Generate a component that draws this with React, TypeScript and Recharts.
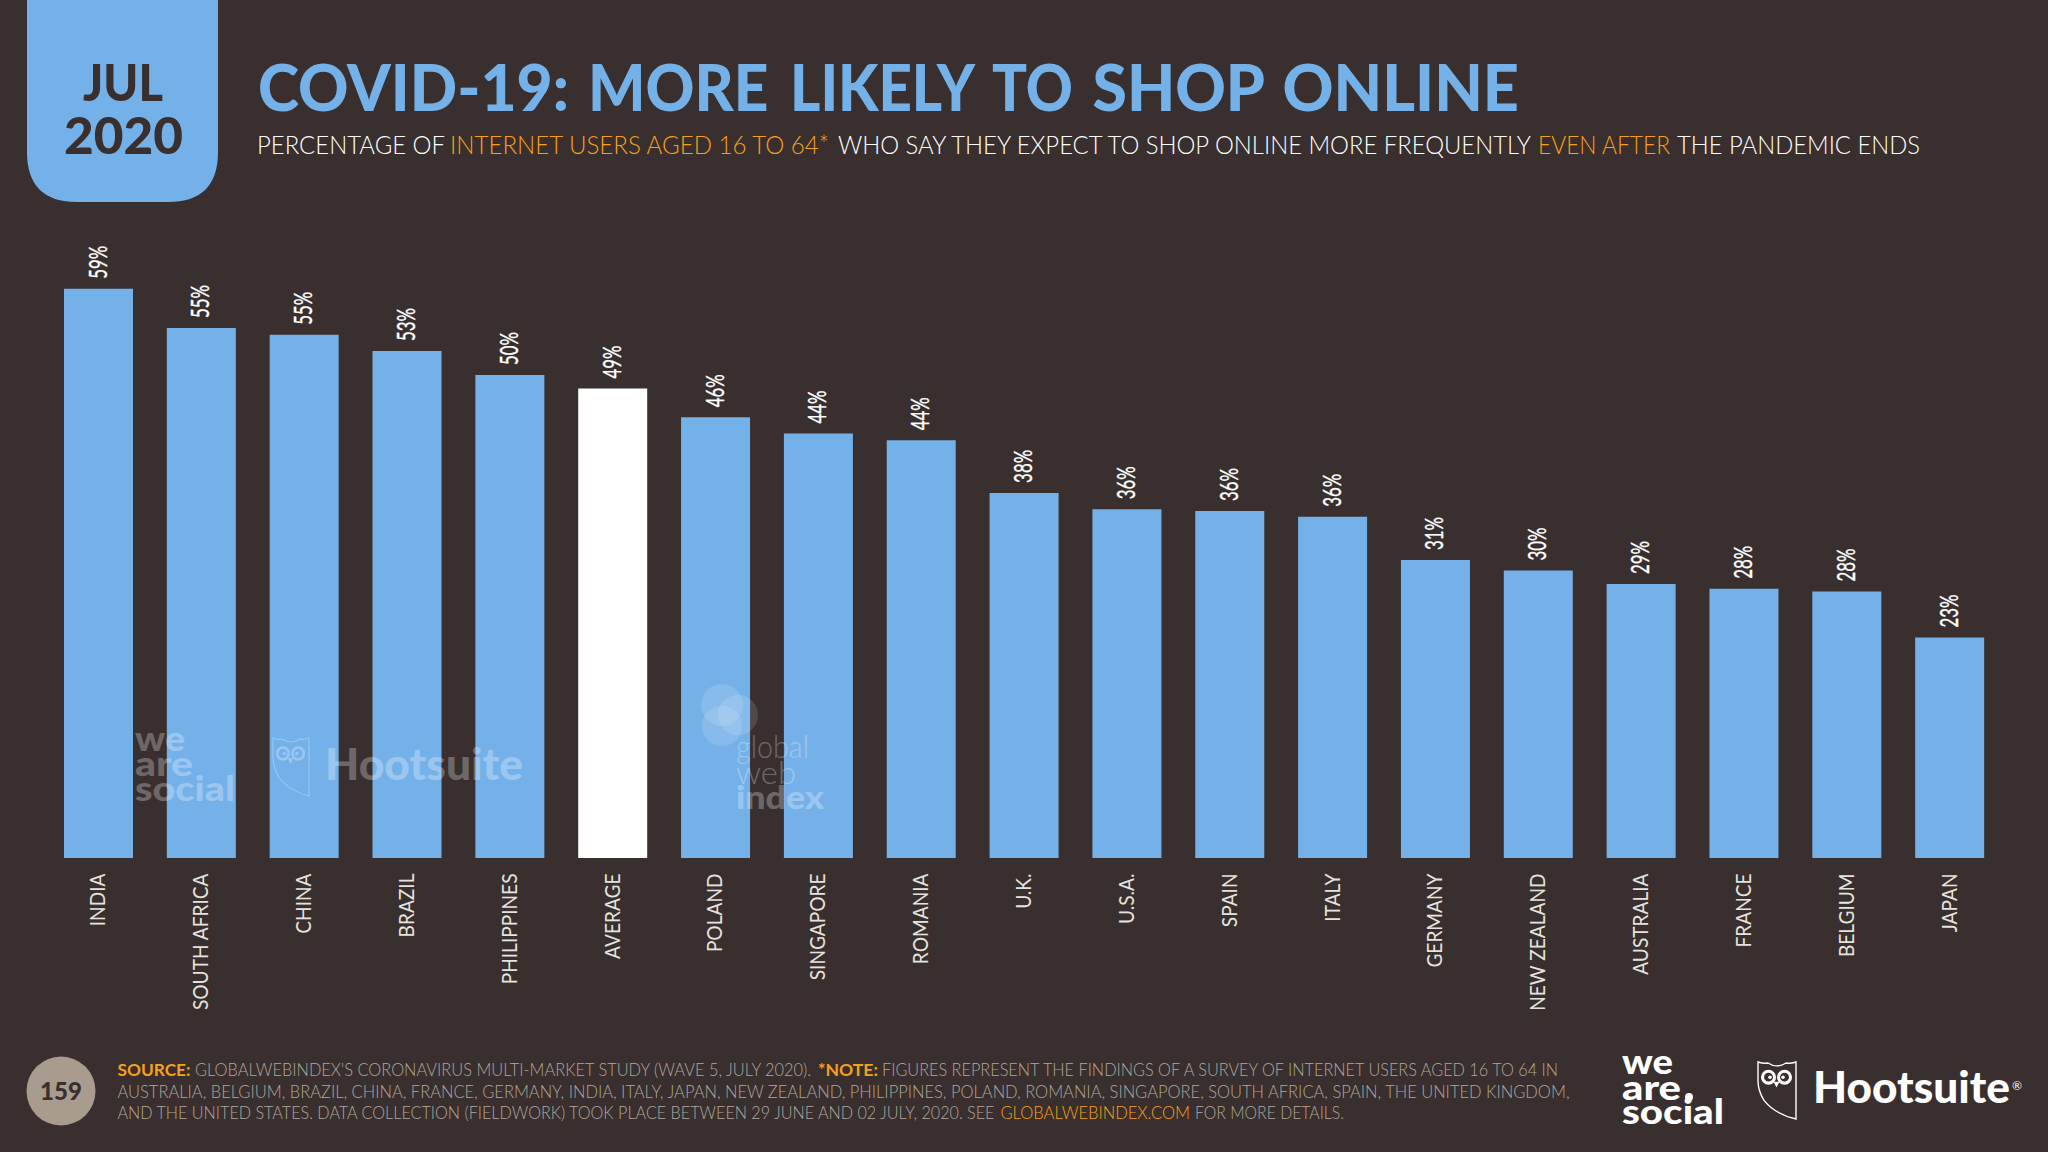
import { BarChart, Bar, XAxis, YAxis, Cell, LabelList } from "recharts";

const countries = ["INDIA", "SOUTH AFRICA", "CHINA", "BRAZIL", "PHILIPPINES", "AVERAGE", "POLAND", "SINGAPORE", "ROMANIA", "U.K.", "U.S.A.", "SPAIN", "ITALY", "GERMANY", "NEW ZEALAND", "AUSTRALIA", "FRANCE", "BELGIUM", "JAPAN"];
const shares = [59.4, 55.3, 54.6, 52.9, 50.4, 49.0, 46.0, 44.3, 43.6, 38.1, 36.4, 36.2, 35.6, 31.1, 30.0, 28.6, 28.1, 27.8, 23.0];
const highlighted = "AVERAGE";

const BG = "#382f2e";
const BLUE = "#75b1e9";
const ORANGE = "#f8a01c";
const GREY = "#b0a79d";
const FONT = "Lato, sans-serif";

const data = countries.map((name, i) => ({ name, share: shares[i] }));

function CountryTick({ x, y, payload }: any) {
  return (
    <text
      transform={`translate(${x + 7},${y + 9.5}) rotate(-90) scale(0.91,1)`}
      textAnchor="end"
      fontFamily={FONT}
      fontSize={21}
      fill="#e6e3df"
    >
      {payload.value}
    </text>
  );
}

function ShareLabel({ x, y, width, value }: any) {
  return (
    <text
      transform={`translate(${x + width / 2 + 8},${y - 10}) rotate(-90)`}
      fontFamily={FONT}
      fontSize={25}
      fontWeight={400}
      textLength={33}
      lengthAdjust="spacingAndGlyphs"
      fill="#ffffff"
      stroke="#ffffff"
      strokeWidth={0.35}
    >
      {Math.round(value)}%
    </text>
  );
}

// text piece squeezed to the width it has in the slide
function Piece({ x, y, w, size, color, weight = 400, children }: any) {
  return (
    <text x={x} y={y} fontFamily={FONT} fontSize={size} fontWeight={weight} fill={color} textLength={w} lengthAdjust="spacingAndGlyphs">
      {children}
    </text>
  );
}

// stacked logo wordmark, one text element with a tspan per line
function Stack({ x, lines, size, color, weight = 900 }: any) {
  return (
    <text fontFamily={FONT} fontSize={size} fontWeight={weight} fill={color}>
      {lines.map((l: any) => (
        <tspan key={l.t} x={x} y={l.y} fontWeight={l.weight ?? weight} textLength={l.w} lengthAdjust="spacingAndGlyphs">
          {l.t}
        </tspan>
      ))}
    </text>
  );
}

function Owl({ x, y, w, h, color, stroke }: any) {
  return (
    <g transform={`translate(${x},${y}) scale(${w / 40},${h / 60})`} fill="none" stroke={color} strokeWidth={stroke}>
      <path d="M1 1 Q7 3 11 2 Q20 8 29 2 Q33 3 39 1 V59 Q18 54 7 40 Q1 30 1 20 Z" />
      <circle cx={11.5} cy={16.5} r={6} strokeWidth={stroke * 2.2} />
      <circle cx={27.5} cy={16.5} r={6} strokeWidth={stroke * 2.2} />
      <circle cx={13} cy={16.5} r={1.8} fill={color} stroke="none" />
      <circle cx={26} cy={16.5} r={1.8} fill={color} stroke="none" />
      <path d="M16.5 21 L19.5 27 L22.5 21 Z" fill={color} stroke="none" />
    </g>
  );
}

function Watermarks() {
  return (
    <>
      <g opacity={0.27} fill="#ffffff">
        <Stack x={135} size={34} color="#fff" lines={[{ t: "we", y: 751, w: 50 }, { t: "are", y: 776, w: 58 }, { t: "social", y: 801, w: 100 }]} />
        <Owl x={272} y={737} w={38} h={60} color="#fff" stroke={1.2} />
        <Piece x={325} y={780} w={198} size={44} color="#fff" weight={900}>Hootsuite</Piece>
        <Stack x={736} size={32} color="#fff" weight={300} lines={[{ t: "global", y: 758, w: 73 }, { t: "web", y: 784, w: 60 }, { t: "index", y: 809, w: 88, weight: 900 }]} />
      </g>
      <circle cx={722} cy={705} r={21} fill="#fff" fillOpacity={0.13} />
      <circle cx={738} cy={715} r={20} fill="#fff" fillOpacity={0.13} />
      <circle cx={722} cy={726} r={20} fill="#fff" fillOpacity={0.13} />
    </>
  );
}

function Slide() {
  return (
    <svg width={2048} height={1152} style={{ position: "absolute", left: 0, top: 0, pointerEvents: "none" }}>
      <path d="M27 0 H218 V152 Q218 202 168 202 H77 Q27 202 27 152 Z" fill={BLUE} />
      <Piece x={83} y={101} w={80} size={52} color={BG} weight={900}>JUL</Piece>
      <Piece x={64} y={154} w={119} size={52} color={BG} weight={900}>2020</Piece>

      <Piece x={258} y={111} w={311} size={65} color={BLUE} weight={900}>COVID-19:</Piece>
      <Piece x={588} y={111} w={180.5} size={65} color={BLUE} weight={900}>MORE</Piece>
      <Piece x={790} y={111} w={185} size={65} color={BLUE} weight={900}>LIKELY</Piece>
      <Piece x={992} y={111} w={81} size={65} color={BLUE} weight={900}>TO</Piece>
      <Piece x={1092.5} y={111} w={172.5} size={65} color={BLUE} weight={900}>SHOP</Piece>
      <Piece x={1282.5} y={111} w={236.5} size={65} color={BLUE} weight={900}>ONLINE</Piece>

      <Piece x={257} y={154} w={188} size={25} color="#ffffff" weight={300}>PERCENTAGE OF</Piece>
      <Piece x={450} y={154} w={379} size={25} color={ORANGE} weight={300}>INTERNET USERS AGED 16 TO 64*</Piece>
      <Piece x={838} y={154} w={693} size={25} color="#ffffff" weight={300}>WHO SAY THEY EXPECT TO SHOP ONLINE MORE FREQUENTLY</Piece>
      <Piece x={1538} y={154} w={132} size={25} color={ORANGE} weight={300}>EVEN AFTER</Piece>
      <Piece x={1677} y={154} w={243} size={25} color="#ffffff" weight={300}>THE PANDEMIC ENDS</Piece>

      <Watermarks />

      <circle cx={61} cy={1091} r={34.5} fill="#a89c8e" />
      <text x={61} y={1100} textAnchor="middle" fontFamily={FONT} fontSize={24} fontWeight={900} fill={BG}>159</text>

      <Piece x={117.5} y={1076} w={73} size={17} color={ORANGE} weight={700}>SOURCE:</Piece>
      <Piece x={195} y={1076} w={616} size={17} color={GREY} weight={300}>GLOBALWEBINDEX'S CORONAVIRUS MULTI-MARKET STUDY (WAVE 5, JULY 2020).</Piece>
      <Piece x={818} y={1076} w={60} size={17} color={ORANGE} weight={700}>*NOTE:</Piece>
      <Piece x={882} y={1076} w={676} size={17} color={GREY} weight={300}>FIGURES REPRESENT THE FINDINGS OF A SURVEY OF INTERNET USERS AGED 16 TO 64 IN</Piece>
      <Piece x={117.5} y={1098} w={1452} size={17} color={GREY} weight={300}>AUSTRALIA, BELGIUM, BRAZIL, CHINA, FRANCE, GERMANY, INDIA, ITALY, JAPAN, NEW ZEALAND, PHILIPPINES, POLAND, ROMANIA, SINGAPORE, SOUTH AFRICA, SPAIN, THE UNITED KINGDOM,</Piece>
      <Piece x={117.5} y={1119} w={877} size={17} color={GREY} weight={300}>AND THE UNITED STATES. DATA COLLECTION (FIELDWORK) TOOK PLACE BETWEEN 29 JUNE AND 02 JULY, 2020. SEE</Piece>
      <Piece x={1000.5} y={1119} w={189.5} size={17} color={ORANGE} weight={300}>GLOBALWEBINDEX.COM</Piece>
      <Piece x={1195} y={1119} w={149} size={17} color={GREY} weight={300}>FOR MORE DETAILS.</Piece>

      <Stack x={1622} size={34} color="#fff" lines={[{ t: "we", y: 1074, w: 51 }, { t: "are", y: 1100, w: 59 }, { t: "social", y: 1124, w: 102 }]} />
      <circle cx={1689} cy={1097} r={4} fill="#fff" />
      <Owl x={1757} y={1061} w={40} h={59} color="#fff" stroke={1.4} />
      <Piece x={1813} y={1103} w={197} size={44} color="#fff" weight={900}>Hootsuite</Piece>
      <text x={2012} y={1090} fontFamily={FONT} fontSize={12} fill="#fff">®</text>
    </svg>
  );
}

export default function App() {
  return (
    <div style={{ position: "absolute", left: 0, top: 0, width: 2048, height: 1152, background: BG, overflow: "hidden" }}>
      <BarChart width={2048} height={1152} data={data} margin={{ top: 283, right: 47, bottom: 0, left: 47 }}>
        <XAxis dataKey="name" interval={0} axisLine={false} tickLine={false} tick={<CountryTick />} tickMargin={0} height={294} />
        <YAxis hide domain={[0, 60]} />
        <Bar dataKey="share" barSize={69} isAnimationActive={false}>
          {countries.map((name) => (
            <Cell key={name} fill={name === highlighted ? "#ffffff" : BLUE} />
          ))}
          <LabelList dataKey="share" content={<ShareLabel />} />
        </Bar>
      </BarChart>
      <Slide />
    </div>
  );
}
